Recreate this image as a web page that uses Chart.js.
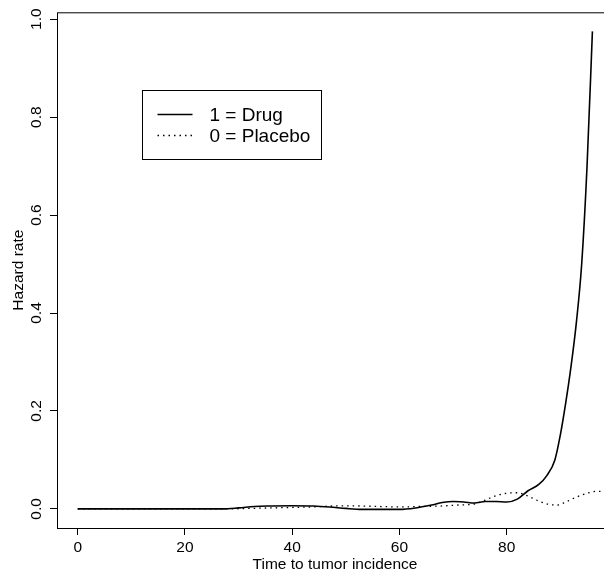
<!DOCTYPE html>
<html>
<head>
<meta charset="utf-8">
<script src="https://cdn.jsdelivr.net/npm/chart.js@4.4.1/dist/chart.umd.min.js"></script>
<style>
  html, body { margin: 0; padding: 0; background: #fff; overflow: hidden; }
  #wrap { width: 640px; height: 575px; }
</style>
</head>
<body>
<div id="wrap"><canvas id="chart" width="640" height="575"></canvas></div>
<script>
// values
const drugTime = [0, 5, 10, 15, 20, 25, 27, 30, 33, 36, 40, 44, 47, 50, 53, 56, 60, 63, 66, 68, 70, 72, 74, 76, 78, 80, 82, 84, 86, 87.5, 89, 90, 91, 92, 93, 94, 95, 96];
const drugHazard = [0, 0, 0, 0, 0, 0, 0, 0.002, 0.005, 0.006, 0.0065, 0.006, 0.004, 0.001, -0.001, -0.001, -0.001, 0.002, 0.008, 0.013, 0.015, 0.014, 0.012, 0.015, 0.015, 0.014, 0.02, 0.037, 0.05, 0.068, 0.1, 0.15, 0.215, 0.29, 0.38, 0.5, 0.7, 0.975];
const placeboTime = [0, 5, 10, 15, 20, 25, 28, 32, 36, 40, 44, 48, 52, 56, 60, 64, 68, 71, 74, 76, 78, 80, 82, 84, 86, 88, 89.5, 91, 93, 95, 97, 98];
const placeboHazard = [0, 0, 0, 0, 0, 0, 0, 0.001, 0.002, 0.003, 0.004, 0.006, 0.006, 0.005, 0.004, 0.005, 0.006, 0.008, 0.01, 0.018, 0.027, 0.032, 0.033, 0.026, 0.016, 0.009, 0.008, 0.014, 0.024, 0.032, 0.036, 0.035];
const seriesNames = ['1 = Drug', '0 = Placebo'];
const xTicks = [0, 20, 40, 60, 80];
const yTicks = [0, 0.2, 0.4, 0.6, 0.8, 1.0];

const FAMILY = '"Liberation Sans", Arial, sans-serif';
const FONT = { family: FAMILY, size: 15.5 };
const LEGEND_SIZE = 19;
const toPoints = (xs, ys) => xs.map((t, i) => ({ x: t, y: ys[i] }));

// R style frame round the plot region
const plotBox = {
  id: 'plotBox',
  afterDraw(chart) {
    const { ctx, chartArea: a } = chart;
    ctx.save();
    ctx.strokeStyle = '#000';
    ctx.lineWidth = 1;
    ctx.strokeRect(a.left + 0.5, a.top + 0.5, a.right - a.left, a.bottom - a.top);
    ctx.restore();
  }
};

// boxed legend, anchored in data coordinates like R's legend(x, y, ...)
const legendBox = {
  id: 'legendBox',
  afterDraw(chart) {
    const { ctx, scales: { x, y } } = chart;
    const left = Math.round(x.getPixelForValue(12)) + 0.5;
    const top = Math.round(y.getPixelForValue(0.855)) + 0.5;
    ctx.save();
    ctx.strokeStyle = '#000';
    ctx.lineWidth = 1;
    ctx.strokeRect(left, top, 179, 69);
    ctx.font = `${LEGEND_SIZE}px ${FAMILY}`;
    ctx.fillStyle = '#000';
    ctx.textBaseline = 'middle';
    chart.data.datasets.forEach((ds, i) => {
      const rowY = top + 24 + i * 21;
      ctx.beginPath();
      ctx.lineWidth = ds.borderWidth;
      ctx.setLineDash(ds.borderDash || []);
      ctx.moveTo(left + 15, rowY);
      ctx.lineTo(left + 50, rowY);
      ctx.stroke();
      ctx.setLineDash([]);
      ctx.fillText(ds.label, left + 67, rowY + 1);
    });
    ctx.restore();
  }
};

new Chart(document.getElementById('chart'), {
  type: 'scatter',
  data: {
    datasets: [
      {
        label: seriesNames[0],
        data: toPoints(drugTime, drugHazard),
        showLine: true,
        borderColor: '#000',
        borderWidth: 1.6,
        pointRadius: 0,
        cubicInterpolationMode: 'monotone'
      },
      {
        label: seriesNames[1],
        data: toPoints(placeboTime, placeboHazard),
        showLine: true,
        borderColor: '#000',
        borderWidth: 1.3,
        borderDash: [1.5, 4],
        pointRadius: 0,
        cubicInterpolationMode: 'monotone'
      }
    ]
  },
  options: {
    responsive: false,
    animation: false,
    devicePixelRatio: 1,
    layout: { padding: { top: 10, right: 27, bottom: 0, left: 0 } },
    plugins: { legend: { display: false }, tooltip: { enabled: false } },
    scales: {
      x: {
        type: 'linear',
        min: -3.86,
        max: 99.84,
        afterBuildTicks: s => { s.ticks = xTicks.map(v => ({ value: v })); },
        afterFit: s => { s.height = 47; },
        grid: { drawOnChartArea: false, drawTicks: true, tickLength: 7, color: '#000' },
        border: { display: false },
        ticks: { color: '#000', font: FONT, padding: 3, maxRotation: 0 },
        title: { display: true, text: 'Time to tumor incidence', color: '#000', font: FONT, padding: { top: 0, bottom: 1 } }
      },
      y: {
        type: 'linear',
        min: -0.039,
        max: 1.014,
        afterBuildTicks: s => { s.ticks = yTicks.map(v => ({ value: v })); },
        afterFit: s => { s.width = 57; },
        grid: { drawOnChartArea: false, drawTicks: true, tickLength: 7, color: '#000' },
        border: { display: false },
        ticks: { color: '#000', font: FONT, padding: 3, minRotation: 90, maxRotation: 90, crossAlign: 'center', callback: v => v.toFixed(1) },
        title: { display: true, text: 'Hazard rate', color: '#000', font: FONT, padding: { top: 9, bottom: 0 } }
      }
    }
  },
  plugins: [plotBox, legendBox]
});
</script>
</body>
</html>
